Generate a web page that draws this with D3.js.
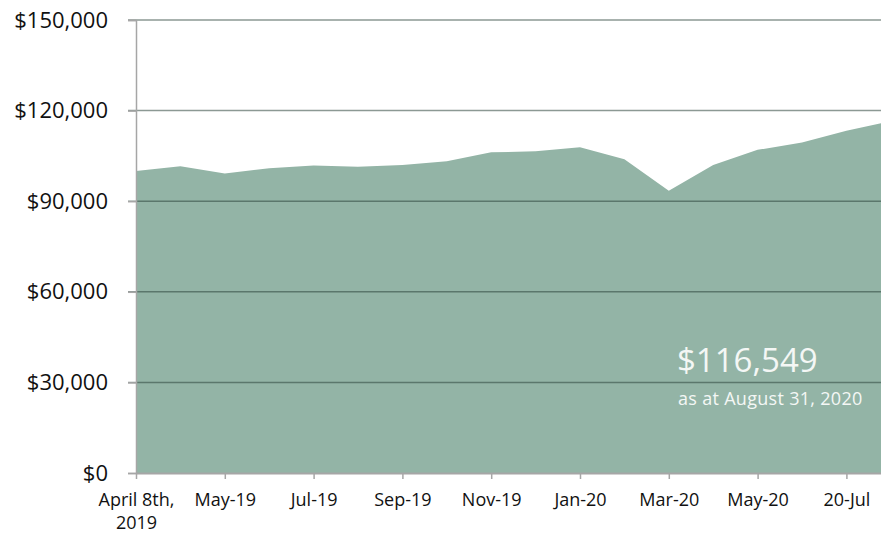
<!DOCTYPE html>
<html>
<head>
<meta charset="utf-8">
<script src="https://cdn.jsdelivr.net/npm/d3@7"></script>
<style>
  body { margin: 0; background: #fff; }
  text { font-family: "Open Sans", sans-serif; }
</style>
</head>
<body>
<div id="chart"></div>
<script>
// month-end values, first point is the start date
const categories = ["April 8th, 2019", "Apr-19", "May-19", "Jun-19", "Jul-19", "Aug-19", "Sep-19", "Oct-19",
  "Nov-19", "Dec-19", "Jan-20", "Feb-20", "Mar-20", "Apr-20", "May-20", "Jun-20", "20-Jul", "Aug-20"];
const values = [100000, 101600, 99200, 100900, 101800, 101400, 102000, 103200,
  106200, 106500, 107900, 103900, 93500, 102000, 107000, 109400, 113300, 116549];
const yTicks = [0, 30000, 60000, 90000, 120000, 150000];
const shownLabels = ["April 8th, 2019", "May-19", "Jul-19", "Sep-19", "Nov-19", "Jan-20", "Mar-20", "May-20", "20-Jul"];

(function () {
  const W = 881, H = 535;
  const mLeft = 136, mTop = 20, mBottom = 473;
  const step = 44.4;
  const font = "'Open Sans', sans-serif";

  const svg = d3.select("#chart").append("svg")
    .attr("width", W).attr("height", H);

  const x = d3.scalePoint()
    .domain(categories)
    .range([mLeft, mLeft + step * (categories.length - 1)]);

  const y = d3.scaleLinear()
    .domain([0, 150000])
    .range([mBottom, mTop]);

  // area
  svg.append("path")
    .datum(values)
    .attr("fill", "#93b4a6")
    .attr("d", d3.area()
      .x((d, i) => x(categories[i]))
      .y0(y(0))
      .y1(d => y(d)));

  // gridlines (drawn over the area)
  svg.append("g")
    .selectAll("line")
    .data(yTicks.filter(d => d > 0))
    .join("line")
    .attr("x1", mLeft - 8).attr("x2", W)
    .attr("y1", d => y(d)).attr("y2", d => y(d))
    .attr("stroke", "rgb(45,70,60)")
    .attr("stroke-opacity", 0.55)
    .attr("stroke-width", 1.5);

  // y axis
  const yAxis = svg.append("g")
    .attr("transform", `translate(${mLeft},0)`)
    .call(d3.axisLeft(y).tickValues(yTicks).tickSize(8).tickPadding(20)
      .tickFormat(d => "$" + d3.format(",")(d)));
  yAxis.select(".domain").attr("stroke", "#a6a6a6").attr("stroke-width", 1.5);
  yAxis.selectAll(".tick line").attr("stroke", "#a6a6a6").attr("stroke-width", 1.5);
  yAxis.selectAll(".tick text")
    .attr("font-size", 22)
    .attr("fill", "#111")
    .attr("font-family", font);

  // x axis
  const xAxis = svg.append("g")
    .attr("transform", `translate(0,${mBottom})`)
    .call(d3.axisBottom(x).tickValues(shownLabels).tickSize(6).tickSizeOuter(0).tickPadding(14));
  xAxis.select(".domain")
    .attr("d", `M${mLeft},0.5H${W}`)
    .attr("stroke", "#a6a6a6").attr("stroke-width", 2);
  xAxis.selectAll(".tick line").attr("stroke", "#a6a6a6").attr("stroke-width", 1.5);
  xAxis.selectAll(".tick text")
    .attr("font-size", 18)
    .attr("fill", "#111")
    .attr("font-family", font)
    .each(function (d) {
      const t = d3.select(this);
      const parts = d.split(" 2019");
      if (parts.length > 1) {
        t.text(null);
        t.append("tspan").attr("x", 0).attr("dy", "0.71em").text(parts[0]);
        t.append("tspan").attr("x", 0).attr("dy", "1.3em").text("2019");
        t.attr("dy", null);
      }
    });

  // annotation
  svg.append("text")
    .attr("x", 677).attr("y", 372)
    .attr("font-size", 33)
    .attr("font-family", font)
    .attr("fill", "#f4f7f5")
    .text("$" + d3.format(",")(values[values.length - 1]));
  svg.append("text")
    .attr("x", 678).attr("y", 405)
    .attr("font-size", 18)
    .attr("letter-spacing", 0.3)
    .attr("font-family", font)
    .attr("fill", "#f4f7f5")
    .text("as at August 31, 2020");
})();
</script>
</body>
</html>
